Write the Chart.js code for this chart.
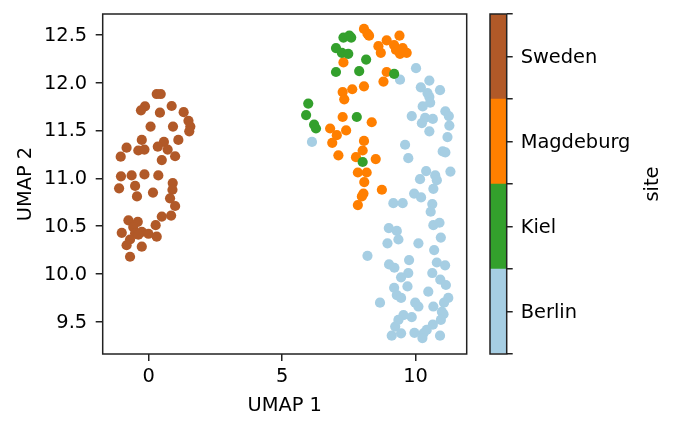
<!DOCTYPE html>
<html>
<head>
<meta charset="utf-8">
<script src="https://cdn.jsdelivr.net/npm/chart.js@4.4.1/dist/chart.umd.min.js"></script>
<style>
  body { margin: 0; background: #fff; }
  canvas { position: absolute; left: 0; top: 0; }
</style>
</head>
<body>
<canvas id="umap" width="678" height="432"></canvas>
<canvas id="cbar" width="678" height="432"></canvas>
<script>
// sites, bottom to top of the colorbar
const sites = ['Berlin', 'Kiel', 'Magdeburg', 'Sweden'];
const siteColors = ['#a6cee3', '#33a02c', '#ff7f00', '#b15928'];

const xTicks = [0, 5, 10];
const yTicks = [9.5, 10.0, 10.5, 11.0, 11.5, 12.0, 12.5];

// Sweden
const swedenX = [0.30, 0.45, -0.14, -0.29, 0.86, 0.42, 1.31, 1.49, 1.56, 1.52, 0.07, 0.91, -0.26, 0.57, 1.11, -0.83, -0.39, -0.16, 0.34, 0.71, 0.99, -1.05, 0.49, -1.04, -0.64, -0.16, 0.36, -0.51, -1.11, -0.44, 0.16, 0.90, 0.89, 0.80, 0.99, 0.84, 0.49, 0.26, -0.76, -0.41, -0.58, -1.01, -0.51, -0.26, -0.01, 0.30, -0.70, -0.83, -0.26, -0.70, -0.39];
const swedenY = [11.88, 11.88, 11.75, 11.71, 11.755, 11.685, 11.69, 11.60, 11.54, 11.49, 11.54, 11.54, 11.40, 11.38, 11.40, 11.32, 11.29, 11.30, 11.33, 11.30, 11.23, 11.225, 11.19, 11.02, 11.03, 11.04, 11.03, 10.92, 10.895, 10.81, 10.85, 10.95, 10.88, 10.79, 10.71, 10.61, 10.60, 10.51, 10.56, 10.545, 10.49, 10.43, 10.425, 10.44, 10.42, 10.39, 10.36, 10.30, 10.285, 10.18, 10.41];

// Kiel
const kielX = [7.30, 7.52, 7.59, 7.02, 7.24, 7.48, 8.15, 7.02, 7.89, 9.20, 5.98, 5.90, 6.20, 6.27, 7.80, 8.02];
const kielY = [12.47, 12.49, 12.47, 12.36, 12.31, 12.30, 12.24, 12.11, 12.12, 12.09, 11.78, 11.66, 11.56, 11.52, 11.64, 11.17];

// Magdeburg
const magdeburgX = [8.07, 8.20, 8.26, 9.40, 8.92, 8.61, 8.70, 9.20, 9.27, 9.42, 9.67, 9.52, 7.30, 8.92, 8.80, 8.07, 7.63, 7.27, 7.33, 7.27, 8.36, 6.80, 7.40, 7.05, 6.88, 8.07, 8.02, 7.11, 7.77, 8.51, 7.84, 8.17, 8.08, 8.05, 7.99, 8.74, 7.84];
const magdeburgY = [12.56, 12.51, 12.49, 12.49, 12.44, 12.38, 12.31, 12.39, 12.34, 12.30, 12.31, 12.36, 12.21, 12.11, 12.01, 11.96, 11.93, 11.90, 11.825, 11.64, 11.585, 11.52, 11.50, 11.45, 11.37, 11.39, 11.29, 11.24, 11.22, 11.20, 11.06, 11.06, 10.96, 10.84, 10.81, 10.88, 10.72];

// Berlin
const berlinX = [10.02, 9.42, 10.52, 10.20, 10.92, 10.45, 10.52, 10.55, 10.27, 11.12, 11.25, 9.86, 10.36, 10.65, 10.24, 11.27, 10.52, 11.20, 6.12, 9.61, 11.02, 11.12, 9.73, 11.31, 10.40, 10.17, 10.74, 10.80, 10.67, 9.95, 10.21, 9.17, 9.52, 10.63, 10.57, 10.67, 10.90, 9.00, 9.30, 9.36, 8.95, 10.11, 10.95, 10.70, 8.20, 9.76, 9.01, 9.21, 10.80, 11.11, 9.73, 9.46, 10.63, 10.93, 11.14, 9.70, 9.20, 9.30, 9.46, 10.48, 11.23, 11.07, 8.67, 9.99, 10.11, 10.67, 10.99, 11.05, 9.55, 9.86, 9.36, 10.95, 9.24, 10.65, 10.42, 10.30, 9.96, 9.11, 9.46, 10.26, 10.92];
const berlinY = [12.15, 12.03, 12.02, 11.95, 11.92, 11.89, 11.85, 11.79, 11.75, 11.70, 11.65, 11.65, 11.63, 11.62, 11.575, 11.55, 11.49, 11.43, 11.38, 11.35, 11.28, 11.27, 11.21, 11.07, 11.075, 10.99, 11.03, 10.98, 10.89, 10.84, 10.80, 10.74, 10.74, 10.73, 10.65, 10.51, 10.535, 10.48, 10.45, 10.36, 10.32, 10.32, 10.38, 10.25, 10.19, 10.145, 10.10, 10.065, 10.12, 10.09, 10.01, 9.965, 10.01, 9.94, 9.885, 9.87, 9.855, 9.78, 9.75, 9.815, 9.75, 9.70, 9.70, 9.70, 9.66, 9.66, 9.605, 9.58, 9.57, 9.55, 9.52, 9.52, 9.45, 9.47, 9.415, 9.38, 9.385, 9.355, 9.38, 9.33, 9.355];

const FONT = { family: 'DejaVu Sans', size: 19.4 };
const INK = '#222';

const toPoints = (xs, ys) => xs.map((x, i) => ({ x: x, y: ys[i] }));

// matplotlib-style box around the plot area
const framePlugin = {
    id: 'frame',
    afterDraw(chart) {
        const { ctx, chartArea: a } = chart;
        ctx.save();
        ctx.strokeStyle = INK;
        ctx.lineWidth = 1.5;
        ctx.strokeRect(a.left, a.top, a.right - a.left, a.bottom - a.top);
        ctx.restore();
    }
};

const scatterSets = [
    { label: 'Kiel', data: toPoints(kielX, kielY), backgroundColor: siteColors[1] },
    { label: 'Magdeburg', data: toPoints(magdeburgX, magdeburgY), backgroundColor: siteColors[2] },
    { label: 'Berlin', data: toPoints(berlinX, berlinY), backgroundColor: siteColors[0] },
    { label: 'Sweden', data: toPoints(swedenX, swedenY), backgroundColor: siteColors[3] }
].map(ds => Object.assign(ds, { pointRadius: 5.1, borderWidth: 0, pointHoverRadius: 5.1 }));

new Chart(document.getElementById('umap').getContext('2d'), {
    type: 'scatter',
    data: { datasets: scatterSets },
    options: {
        responsive: false,
        animation: false,
        devicePixelRatio: 1,
        layout: { padding: { left: 0, top: 14, right: 211.3, bottom: 0 } },
        plugins: { legend: { display: false }, tooltip: { enabled: false } },
        scales: {
            x: {
                type: 'linear',
                min: -1.725,
                max: 11.92,
                afterBuildTicks: scale => { scale.ticks = xTicks.map(v => ({ value: v })); },
                afterFit: scale => {
                    scale.height = 78;
                    scale.paddingLeft = 0; scale.paddingRight = 0;
                },
                ticks: { color: '#000', font: FONT, padding: 4, maxRotation: 0, autoSkip: false },
                grid: { drawOnChartArea: false, tickLength: 7, color: INK, lineWidth: 1.5 },
                border: { display: false },
                title: { display: true, text: 'UMAP 1', color: '#000', font: FONT, padding: { bottom: 14.2 } }
            },
            y: {
                type: 'linear',
                min: 9.164,
                max: 12.716,
                afterBuildTicks: scale => { scale.ticks = yTicks.map(v => ({ value: v })); },
                afterFit: scale => {
                    scale.width = 102.7;
                    scale.paddingTop = 0; scale.paddingBottom = 0;
                },
                ticks: { color: '#000', font: FONT, padding: 8.5, labelOffset: 1, autoSkip: false, callback: v => v.toFixed(1) },
                grid: { drawOnChartArea: false, tickLength: 7, color: INK, lineWidth: 1.5 },
                border: { display: false },
                title: { display: true, text: 'UMAP 2', color: '#000', font: FONT, padding: { top: 14.5 } }
            }
        }
    },
    plugins: [framePlugin]
});

// colorbar: one stacked bar, one segment per site
const cbarSets = sites.map((s, i) => ({
    label: s,
    data: [1],
    backgroundColor: siteColors[i],
    borderWidth: 0,
    barPercentage: 1,
    categoryPercentage: 1
}));

const siteTitlePlugin = {
    id: 'siteTitle',
    afterDraw(chart) {
        const { ctx, chartArea: a } = chart;
        ctx.save();
        ctx.translate(652.5, (a.top + a.bottom) / 2);
        ctx.rotate(-Math.PI / 2);
        ctx.font = FONT.size + 'px "' + FONT.family + '"';
        ctx.fillStyle = '#000';
        ctx.textAlign = 'center';
        ctx.textBaseline = 'middle';
        ctx.fillText('site', 0, 0);
        ctx.restore();
    }
};

new Chart(document.getElementById('cbar').getContext('2d'), {
    type: 'bar',
    data: { labels: ['site'], datasets: cbarSets },
    options: {
        responsive: false,
        animation: false,
        devicePixelRatio: 1,
        layout: { padding: { left: 490, top: 14, right: 0, bottom: 78 } },
        plugins: { legend: { display: false }, tooltip: { enabled: false } },
        scales: {
            x: { stacked: true, display: false },
            y: {
                stacked: true,
                position: 'right',
                min: 0,
                max: sites.length,
                afterFit: scale => {
                    scale.width = 171.3;
                    scale.paddingTop = 0; scale.paddingBottom = 0;
                },
                ticks: {
                    stepSize: 0.5,
                    autoSkip: false,
                    color: '#000',
                    font: FONT,
                    padding: 8,
                    labelOffset: 1,
                    callback: v => (v % 1 === 0.5 ? sites[Math.floor(v)] : '')
                },
                grid: { drawOnChartArea: false, tickLength: 6, color: INK, lineWidth: 1.5 },
                border: { display: false }
            }
        }
    },
    plugins: [framePlugin, siteTitlePlugin]
});
</script>
</body>
</html>
